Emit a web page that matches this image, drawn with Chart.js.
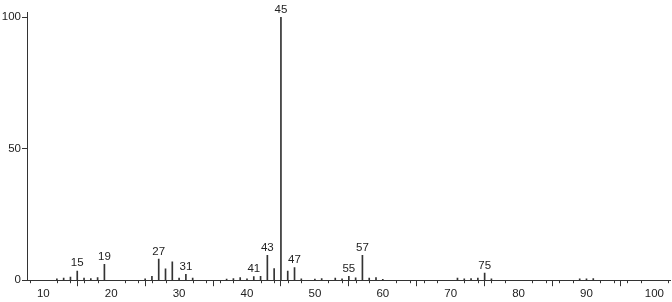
<!DOCTYPE html>
<html>
<head>
<meta charset="utf-8">
<script src="https://cdn.jsdelivr.net/npm/chart.js@4"></script>
<style>
  html, body { margin: 0; padding: 0; background: #fff; }
  #wrap { width: 672px; height: 302px; }
</style>
</head>
<body>
<div id="wrap"><canvas id="msChart" width="672" height="302"></canvas></div>
<script>
// m/z values and relative intensities
const masses = [12, 13, 14, 15, 16, 17, 18, 19, 25, 26, 27, 28, 29, 30, 31, 32,
  37, 38, 39, 40, 41, 42, 43, 44, 45, 46, 47, 48, 50, 51, 53, 54, 55, 56, 57, 58,
  59, 60, 71, 72, 73, 74, 75, 76, 89, 90, 91];
const intensities = [0.5, 0.8, 1.2, 3.5, 0.8, 0.6, 1.0, 6.0, 0.5, 1.5, 8.0, 4.3, 7.0, 0.8, 2.2, 0.8,
  0.4, 0.6, 1.0, 0.5, 1.4, 1.5, 9.5, 4.4, 100, 3.5, 4.8, 0.5, 0.4, 0.6, 0.8, 0.5, 1.5, 0.9, 9.5, 0.8,
  1.0, 0.3, 0.8, 0.5, 0.6, 0.8, 2.7, 0.5, 0.5, 0.5, 0.6];
// peaks that get their m/z written above them
const labeledMasses = [15, 19, 27, 31, 41, 43, 45, 47, 55, 57, 75];
const xTickLabels = [10, 20, 30, 40, 50, 60, 70, 80, 90, 100];

const FONT = '"Liberation Sans", "DejaVu Sans", sans-serif';
const INK = '#333';

// peak labels + small minor ticks on the x axis
const peakLabels = {
  id: 'peakLabels',
  afterDatasetsDraw(chart) {
    const ctx = chart.ctx;
    const meta = chart.getDatasetMeta(0);
    ctx.save();
    ctx.fillStyle = '#222';
    ctx.font = '11.5px ' + FONT;
    ctx.textAlign = 'center';
    ctx.textBaseline = 'bottom';
    meta.data.forEach((bar, i) => {
      if (labeledMasses.includes(masses[i])) {
        ctx.fillText(String(masses[i]), bar.x, bar.y - 2);
      }
    });
    ctx.restore();
  },
  afterDraw(chart) {
    const ctx = chart.ctx;
    const xs = chart.scales.x;
    const yb = chart.chartArea.bottom;
    ctx.save();
    ctx.strokeStyle = INK;
    ctx.lineWidth = 1;
    for (let v = 8; v <= 102; v += 2) {
      if (v % 10 === 0) continue;
      const px = Math.round(xs.getPixelForValue(v)) + 0.5;
      ctx.beginPath();
      ctx.moveTo(px, yb);
      ctx.lineTo(px, yb + 3);
      ctx.stroke();
    }
    ctx.restore();
  }
};

new Chart(document.getElementById('msChart'), {
  type: 'bar',
  data: {
    datasets: [{
      data: masses.map((m, i) => ({ x: m, y: intensities[i] })),
      backgroundColor: '#333',
      borderWidth: 0,
      barThickness: 1
    }]
  },
  options: {
    responsive: false,
    animation: false,
    maintainAspectRatio: false,
    layout: { padding: { top: 12, right: 2, left: 0, bottom: 0 } },
    plugins: { legend: { display: false }, tooltip: { enabled: false } },
    scales: {
      x: {
        type: 'linear',
        offset: false,
        min: 7.6,
        max: 102.3,
        afterBuildTicks(scale) {
          scale.ticks = xTickLabels.map(v => ({ value: v }));
        },
        ticks: {
          color: '#222',
          font: { family: FONT, size: 11.5 },
          padding: 1,
          maxRotation: 0,
          autoSkip: false
        },
        grid: { drawOnChartArea: false, tickLength: 6, color: INK },
        border: { color: INK, width: 1 }
      },
      y: {
        min: 0,
        max: 102,
        afterBuildTicks(scale) {
          scale.ticks = [0, 50, 100].map(v => ({ value: v }));
        },
        afterFit(scale) { scale.width = 27; },
        ticks: {
          color: '#222',
          font: { family: FONT, size: 11.5 },
          padding: 1
        },
        grid: { drawOnChartArea: false, tickLength: 5, color: INK },
        border: { color: INK, width: 1 }
      }
    }
  },
  plugins: [peakLabels]
});
</script>
</body>
</html>
